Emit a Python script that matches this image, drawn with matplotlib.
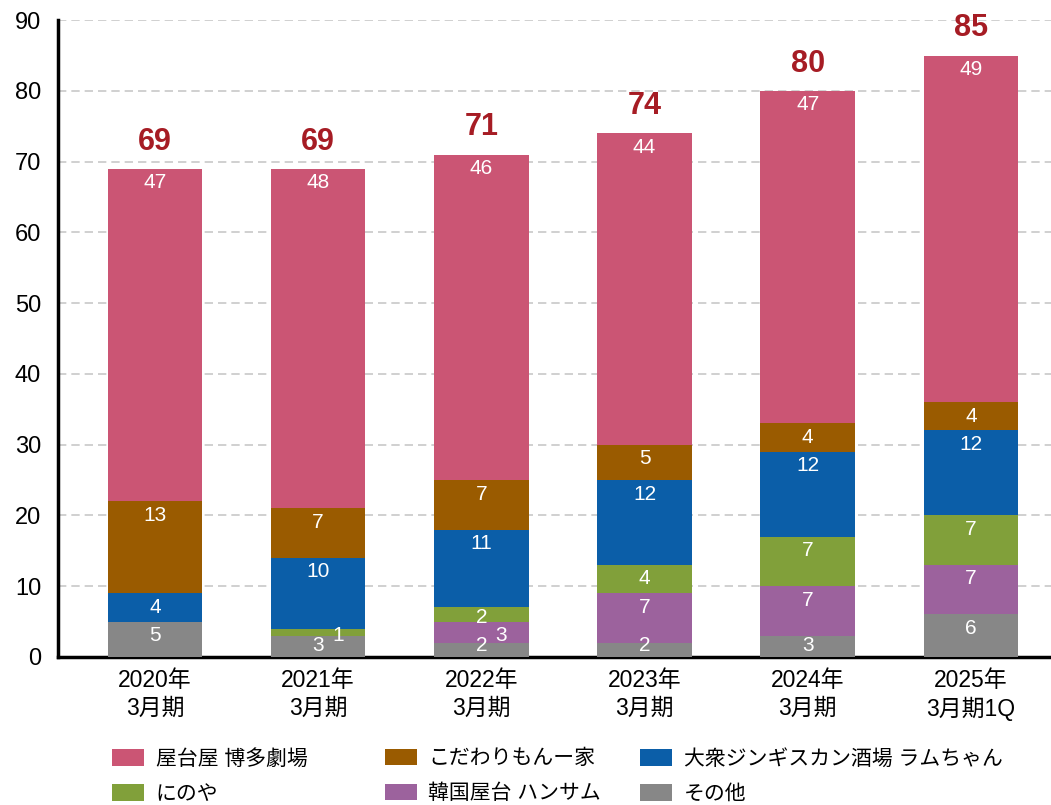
import matplotlib
matplotlib.use("Agg")
import matplotlib.pyplot as plt
import numpy as np

plt.rcParams['font.family'] = ['Liberation Sans', 'Noto Sans CJK JP', 'DejaVu Sans']

# データ
periods = ["2020年\n3月期", "2021年\n3月期", "2022年\n3月期", "2023年\n3月期", "2024年\n3月期", "2025年\n3月期1Q"]
names = ["その他", "韓国屋台 ハンサム", "にのや", "大衆ジンギスカン酒場 ラムちゃん", "こだわりもんー家", "屋台屋 博多劇場"]
sonota = [5, 3, 2, 2, 3, 6]
hansamu = [0, 0, 3, 7, 7, 7]
ninoya = [0, 1, 2, 4, 7, 7]
ramuchan = [4, 10, 11, 12, 12, 12]
kodawari = [13, 7, 7, 5, 4, 4]
hakata = [47, 48, 46, 44, 47, 49]
totals = [69, 69, 71, 74, 80, 85]

series = [sonota, hansamu, ninoya, ramuchan, kodawari, hakata]
colors = ["#878787", "#9C629D", "#81A03A", "#0B5EA8", "#9A5B00", "#CB5574"]

# 小さい値のラベルを右にずらす (期, 系列)
nudge = {(1, 2), (2, 1)}

fig = plt.figure(figsize=(10.51, 8.05), dpi=100)
ax = fig.add_axes([0.055, 0.184, 0.945, 0.791])
ax.set_ylim(0, 90)
ax.set_xlim(-0.595, 5.49)
px_per_unit = 0.791 * 805 / 90

x = np.arange(len(periods))
bottom = np.zeros(len(periods))
bars = []
for k, (vals, col, nm) in enumerate(zip(series, colors, names)):
    b = ax.bar(x, vals, 0.58, bottom=bottom, color=col, label=nm, zorder=3)
    bars.append(b)
    for i, v in enumerate(vals):
        if v <= 0:
            continue
        top = bottom[i] + v
        off = min(14, v * 3.54 + 3)
        yc = max(top - off / px_per_unit, 1.6)
        dx = 20 if (i, k) in nudge else 0
        ax.annotate(str(v), (x[i], yc), xytext=(dx * 0.72, 0), textcoords="offset points",
                    ha="center", va="center", color="white", fontsize=15, zorder=4)
    bottom += np.array(vals)

for i, t in enumerate(totals):
    ax.annotate(str(t), (x[i], bottom[i]), xytext=(0, 19.5), textcoords="offset points",
                ha="center", va="center", color="#A61C24", fontsize=22, fontweight="bold")

ax.set_yticks(range(0, 91, 10))
ax.set_xticks(x)
ax.set_xticklabels(periods, fontsize=16.5, linespacing=1.25)
ax.tick_params(axis="y", labelsize=17, length=0, pad=12)
ax.tick_params(axis="x", length=0, pad=9)
ax.yaxis.grid(True, color="#C8C8C8", linestyle=(0, (5, 3)), linewidth=1.2, zorder=0)
ax.set_axisbelow(True)
for s in ["top", "right"]:
    ax.spines[s].set_visible(False)
ax.spines["left"].set_linewidth(2.5)
ax.spines["bottom"].set_linewidth(2.5)

# 凡例: 列ごとに配置
legend_cols = [[5, 2], [4, 1], [3, 0]]
col_x = [0.1066, 0.366, 0.609]
for idx, cx in zip(legend_cols, col_x):
    leg = fig.legend([bars[j] for j in idx], [names[j] for j in idx], loc="upper left",
                     bbox_to_anchor=(cx, 0.07), frameon=False, fontsize=15,
                     handlelength=1.55, handleheight=0.85, handletextpad=0.55,
                     labelspacing=0.75, borderpad=0, borderaxespad=0)

plt.savefig("out.png", dpi=100)
plt.close()
